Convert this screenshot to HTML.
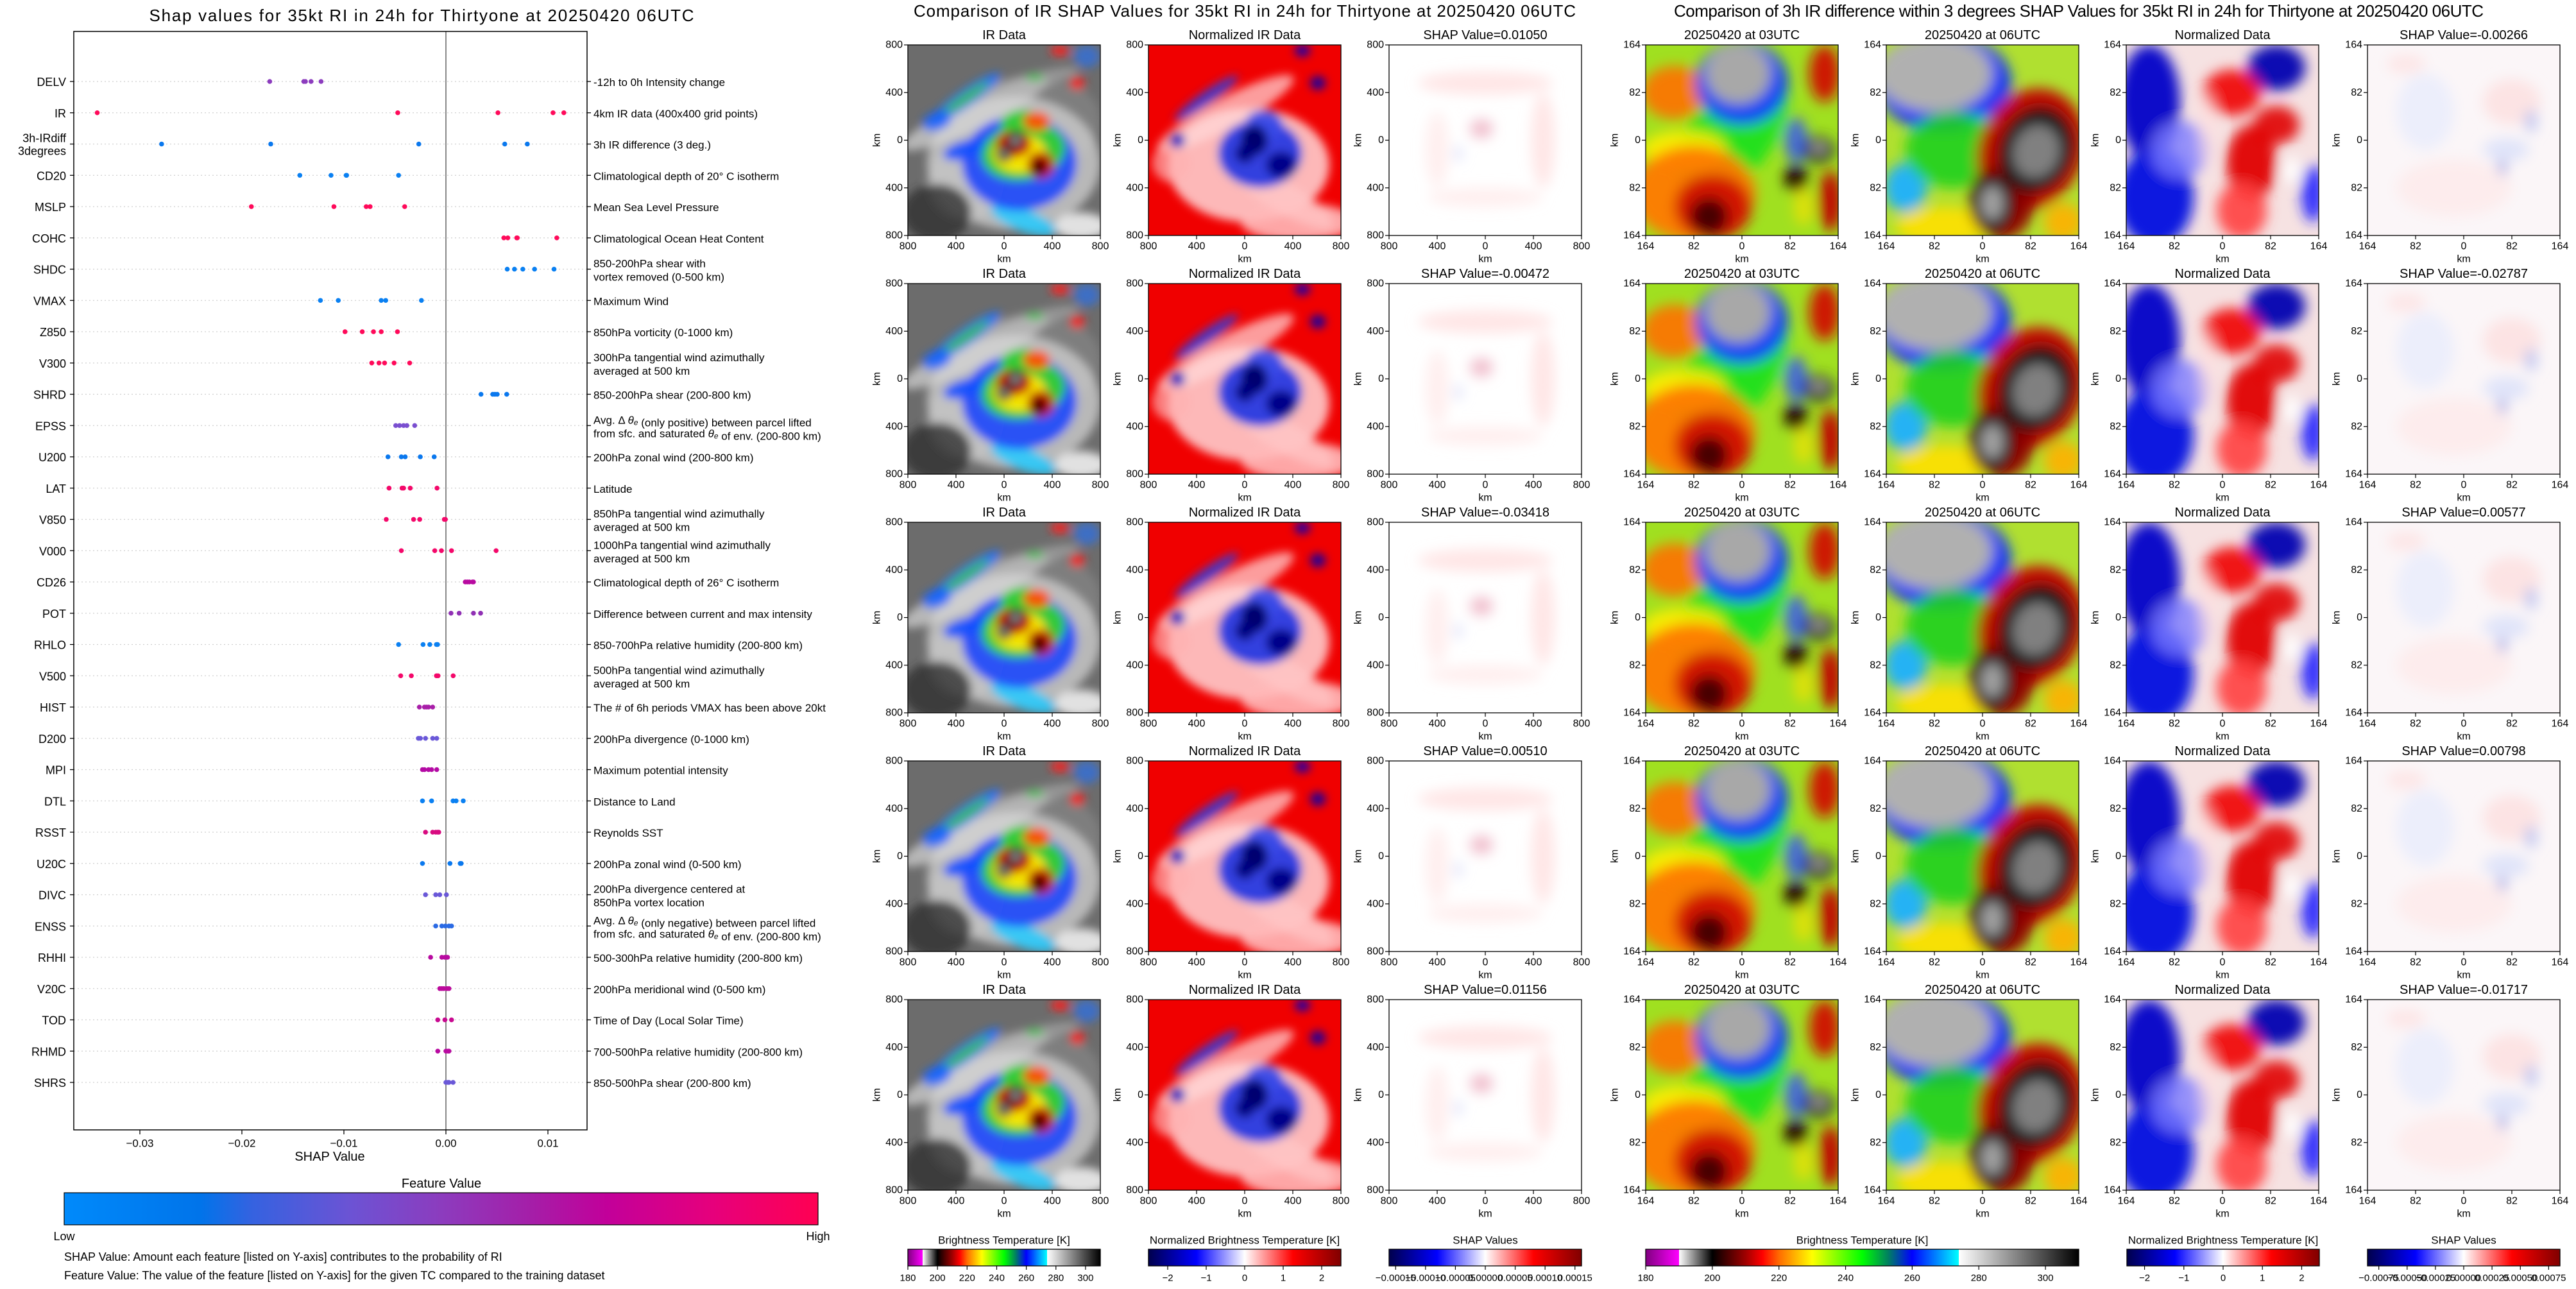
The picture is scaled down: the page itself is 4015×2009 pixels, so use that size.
<!DOCTYPE html>
<html><head><meta charset="utf-8"><title>SHAP RI Thirtyone</title>
<style>
html,body{margin:0;padding:0;background:#fff;}
svg{display:block;font-family:"Liberation Sans","DejaVu Sans",sans-serif;}
</style></head>
<body>
<svg id="fig" xmlns="http://www.w3.org/2000/svg" width="4015" height="2009" viewBox="0 0 4015 2009">
<defs>
<linearGradient id="featGrad" x1="0" x2="1" y1="0" y2="0">
<stop offset="0" stop-color="#008afb"/><stop offset="0.18" stop-color="#0074ea"/><stop offset="0.25" stop-color="#3562e0"/><stop offset="0.38" stop-color="#6c53d4"/><stop offset="0.5" stop-color="#8c3cbe"/><stop offset="0.62" stop-color="#a51ea8"/><stop offset="0.72" stop-color="#c2009a"/><stop offset="0.86" stop-color="#e6007c"/><stop offset="1" stop-color="#ff0052"/>
</linearGradient>
<linearGradient id="btGrad" x1="0" x2="1" y1="0" y2="0">
<stop offset="0" stop-color="#800080"/><stop offset="0.0769" stop-color="#ff00ff"/><stop offset="0.0769" stop-color="#ffffff"/><stop offset="0.1538" stop-color="#000000"/><stop offset="0.2308" stop-color="#a00000"/><stop offset="0.2692" stop-color="#ff0000"/><stop offset="0.31" stop-color="#ff7000"/><stop offset="0.3846" stop-color="#ffff00"/><stop offset="0.5" stop-color="#00ff00"/><stop offset="0.56" stop-color="#008060"/><stop offset="0.615" stop-color="#0000ff"/><stop offset="0.7231" stop-color="#00ffff"/><stop offset="0.7231" stop-color="#ffffff"/><stop offset="1" stop-color="#000000"/>
</linearGradient>
<linearGradient id="seisGrad" x1="0" x2="1" y1="0" y2="0">
<stop offset="0" stop-color="#00004c"/><stop offset="0.25" stop-color="#0000ff"/><stop offset="0.5" stop-color="#ffffff"/><stop offset="0.75" stop-color="#ff0000"/><stop offset="1" stop-color="#800000"/>
</linearGradient>
<filter id="blurA" x="-20%" y="-20%" width="140%" height="140%"><feGaussianBlur stdDeviation="10"/></filter>
<filter id="blurB" x="-20%" y="-20%" width="140%" height="140%"><feGaussianBlur stdDeviation="7"/></filter>
</defs>
<g id="left"></g>
<g id="mid"></g>
<g id="right"></g>
</svg>
<script>
// ---------- data ----------
const features = ['DELV','IR','3h-IRdiff','CD20','MSLP','COHC','SHDC','VMAX','Z850','V300','SHRD','EPSS','U200','LAT','V850','V000','CD26','POT','RHLO','V500','HIST','D200','MPI','DTL','RSST','U20C','DIVC','ENSS','RHHI','V20C','TOD','RHMD','SHRS'];
const descriptions = [
 ['-12h to 0h Intensity change'],['4km IR data (400x400 grid points)'],['3h IR difference (3 deg.)'],
 ['Climatological depth of 20° C isotherm'],['Mean Sea Level Pressure'],['Climatological Ocean Heat Content'],
 ['850-200hPa shear with','vortex removed (0-500 km)'],['Maximum Wind'],['850hPa vorticity (0-1000 km)'],
 ['300hPa tangential wind azimuthally','averaged at 500 km'],['850-200hPa shear (200-800 km)'],
 ['Avg. Δ {te} (only positive) between parcel lifted','from sfc. and saturated {te} of env. (200-800 km)'],
 ['200hPa zonal wind (200-800 km)'],['Latitude'],['850hPa tangential wind azimuthally','averaged at 500 km'],
 ['1000hPa tangential wind azimuthally','averaged at 500 km'],['Climatological depth of 26° C isotherm'],
 ['Difference between current and max intensity'],['850-700hPa relative humidity (200-800 km)'],
 ['500hPa tangential wind azimuthally','averaged at 500 km'],['The # of 6h periods VMAX has been above 20kt'],
 ['200hPa divergence (0-1000 km)'],['Maximum potential intensity'],['Distance to Land'],['Reynolds SST'],
 ['200hPa zonal wind (0-500 km)'],['200hPa divergence centered at','850hPa vortex location'],
 ['Avg. Δ {te} (only negative) between parcel lifted','from sfc. and saturated {te} of env. (200-800 km)'],
 ['500-300hPa relative humidity (200-800 km)'],['200hPa meridional wind (0-500 km)'],['Time of Day (Local Solar Time)'],
 ['700-500hPa relative humidity (200-800 km)'],['850-500hPa shear (200-800 km)']];
const irShap = [0.01050,-0.00472,-0.03418,0.00510,0.01156];
const irDiffShap = [-0.00266,-0.02787,0.00577,0.00798,-0.01717];
const shapValues = [
 [-0.01727,-0.01393,-0.01377,-0.01322,-0.01224],
 irShap,
 irDiffShap,
 [-0.01432,-0.01126,-0.00978,-0.00973,-0.00464],
 [-0.01907,-0.01098,-0.00781,-0.00743,-0.00404],
 [0.00568,0.00607,0.00694,0.00700,0.01087],
 [0.00601,0.00672,0.00754,0.00869,0.01060],
 [-0.01230,-0.01055,-0.00634,-0.00590,-0.00240],
 [-0.00989,-0.00820,-0.00710,-0.00634,-0.00475],
 [-0.00727,-0.00656,-0.00601,-0.00508,-0.00355],
 [0.00344,0.00459,0.00480,0.00503,0.00596],
 [-0.00492,-0.00454,-0.00415,-0.00383,-0.00306],
 [-0.00568,-0.00437,-0.00399,-0.00251,-0.00115],
 [-0.00557,-0.00430,-0.00415,-0.00350,-0.00087],
 [-0.00585,-0.00317,-0.00257,-0.00016,-0.00005],
 [-0.00437,-0.00109,-0.00044,0.00055,0.00492],
 [0.00190,0.00210,0.00230,0.00260,0.00270],
 [0.00050,0.00130,0.00270,0.00340],
 [-0.00464,-0.00224,-0.00158,-0.00093,-0.00082],
 [-0.00443,-0.00339,-0.00093,-0.00077,0.00071],
 [-0.00260,-0.00210,-0.00190,-0.00170,-0.00130],
 [-0.00270,-0.00250,-0.00200,-0.00130,-0.00090],
 [-0.00230,-0.00210,-0.00170,-0.00140,-0.00090],
 [-0.00230,-0.00140,0.00070,0.00100,0.00170],
 [-0.00200,-0.00130,-0.00100,-0.00080,-0.00070],
 [-0.00230,0.00040,0.00140,0.00150],
 [-0.00200,-0.00100,-0.00060,0.00005],
 [-0.00100,-0.00040,-0.00005,0.00030,0.00055],
 [-0.00150,-0.00040,-0.00010,0.00005,0.00016],
 [-0.00060,-0.00040,-0.00020,0.00010,0.00030],
 [-0.00080,-0.00010,0.00055],
 [-0.00080,0.00000,0.00020,0.00030],
 [0.00000,0.00020,0.00030,0.00070]];
const dotColors = ['#8c3cbe','#ff0a5a','#0a78ee','#0a80f2','#ff0a5a','#ff0a5a','#0a80f2','#0a80f2','#ff0a5a','#ff0a5a','#0a78ee','#7a4fd0','#0a78ee','#f4086a','#f4086a','#f4086a','#b80aa0','#9030b4','#0a80f2','#f4086a','#a81ea8','#6a58d8','#b40aa4','#0a80f2','#d80a80','#0a78ee','#6a58d8','#2a6ae4','#b80aa0','#bc0a9c','#c80a90','#b80aa0','#6a58d8'];
const xTicks = [-0.03,-0.02,-0.01,0.00,0.01];
const xTickLabels = ['\u22120.03','\u22120.02','\u22120.01','0.00','0.01'];

const NS = 'http://www.w3.org/2000/svg';
function el(tag, attrs, parent){ const e=document.createElementNS(NS,tag); for(const k in attrs) e.setAttribute(k,attrs[k]); parent.appendChild(e); return e; }
function txt(parent,x,y,s,size,anchor){ const t=el('text',{x:x,y:y,'font-size':size,'text-anchor':anchor||'middle','dominant-baseline':'central',fill:'#000'},parent); t.textContent=s; return t; }

// ---------- left summary plot ----------
const L = document.getElementById('left');
const AX = {l:115,r:915,t:49,b:1761};
function xs(v){ return 695 + v*15900; }
function yRow(i){ return 127 + i*48.75; }

const title = txt(L,657,24,'Shap values for 35kt RI in 24h for Thirtyone at 20250420 06UTC',26);
title.setAttribute('textLength','849');



features.forEach((f,i)=>{
  const y=yRow(i);
  const g=el('line',{x1:AX.l,x2:AX.r,y1:y,y2:y,stroke:'#cfcfcf','stroke-width':1.2,'stroke-dasharray':'2 4'},L);
  
  
  const tl=el('line',{x1:AX.l-6,x2:AX.l,y1:y,y2:y,stroke:'#000','stroke-width':1.3},L);
  
  
  const tr=el('line',{x1:AX.r,x2:AX.r+6,y1:y,y2:y,stroke:'#000','stroke-width':1.3},L);
  
  
  if(f==='3h-IRdiff'){
    const a=txt(L,103,y-9,'3h-IRdiff',18,'end');
    
    
    const b=txt(L,103,y+11,'3degrees',18,'end');
    
    
  } else {
    const a=txt(L,103,y+1,f,18,'end');
    
    
  }
  const lines=descriptions[i];
  lines.forEach((ln,k)=>{
    const yy = lines.length===1 ? y+1 : (k===0 ? y-9 : y+12);
    const t=el('text',{x:925,y:yy,'font-size':17,'dominant-baseline':'central',fill:'#000'},L);
    
    
    const parts=ln.split('{te}');
    parts.forEach((p,pi)=>{
      const s=el('tspan',{},t); s.textContent=p;
      if(pi<parts.length-1){
        const th=el('tspan',{'font-style':'italic'},t); th.textContent='θ';
        const sub=el('tspan',{'font-size':12,dy:4,'font-style':'italic'},t); sub.textContent='e';
        const back=el('tspan',{dy:-4},t); back.textContent='';
      }
    });
  });
});

const zl=el('line',{x1:xs(0),x2:xs(0),y1:AX.t,y2:AX.b,stroke:'#8a8a8a','stroke-width':2},L);



shapValues.forEach((vals,i)=>{
  vals.forEach(v=>{
    const c=el('circle',{cx:xs(v),cy:yRow(i),r:3.8,fill:dotColors[i]},L);
    
    
  });
});

const frame=el('rect',{x:AX.l,y:AX.t,width:AX.r-AX.l,height:AX.b-AX.t,fill:'none',stroke:'#000','stroke-width':1.5},L);



xTicks.forEach((t,k)=>{
  const m=el('line',{x1:xs(t),x2:xs(t),y1:AX.b,y2:AX.b+7,stroke:'#000','stroke-width':1.3},L);
  
  
  const lb=txt(L,xs(t),AX.b+21,xTickLabels[k],17);
  
  
});
const xt=txt(L,514,1803,'SHAP Value',20);


const fvt=txt(L,688,1845,'Feature Value',20);


const fcb=el('rect',{x:100,y:1859,width:1175,height:50,fill:'url(#featGrad)',stroke:'#000','stroke-width':1.2},L);


const lo=txt(L,100,1927,'Low',18);


const hi=txt(L,1275,1927,'High',18);


const n1=txt(L,100,1959,'SHAP Value: Amount each feature [listed on Y-axis] contributes to the probability of RI',18,'start');


const n2=txt(L,100,1988,'Feature Value: The value of the feature [listed on Y-axis] for the given TC compared to the training dataset',18,'start');



// ---------- imagery panels ----------
const rowTops=[70,442,814,1186,1558];
const PW=300, PH=297;
const IMG = {
 ir:{bg:'#6c6c6c',blur:'blurB',blobs:[
  [0.35,0.36,0.42,0.08,'#d0d0d0',0.75,-25],[0.55,0.22,0.35,0.05,'#b0b0b0',0.6,-15],[0.8,0.4,0.2,0.2,'#8a8a8a',0.6,0],
  [0.55,0.62,0.45,0.35,'#d8d8d8',0.7,0],[0.3,0.72,0.2,0.2,'#c8c8c8',0.6,-30],
  [0.15,0.88,0.18,0.15,'#303030',0.8,0],[0.9,0.95,0.14,0.07,'#eeeeee',0.9,0],
  [0.3,0.28,0.22,0.045,'#1a70ff',0.9,-35],[0.3,0.28,0.15,0.025,'#40c040',0.9,-35],[0.15,0.4,0.08,0.05,'#1060ff',0.8,-20],
  [0.6,0.92,0.18,0.06,'#30c8f8',0.95,20],[0.58,0.62,0.3,0.25,'#1040ff',0.85,0],[0.3,0.55,0.12,0.05,'#1050ff',0.9,-15],
  [0.6,0.56,0.22,0.15,'#30d030',0.95,-10],[0.6,0.42,0.12,0.08,'#30d030',0.95,0],[0.58,0.57,0.14,0.1,'#ffe800',0.95,0],
  [0.67,0.4,0.07,0.05,'#ff5000',0.95,0],[0.55,0.52,0.09,0.07,'#d01000',0.95,0],[0.69,0.63,0.07,0.07,'#c81000',0.95,0],
  [0.56,0.5,0.045,0.05,'#101010',1,0],[0.5,0.57,0.04,0.045,'#101010',1,0],[0.68,0.64,0.035,0.045,'#300000',1,0],
  [0.56,0.5,0.025,0.025,'#909090',1,0],[0.5,0.57,0.02,0.02,'#909090',1,0],
  [0.79,0.03,0.05,0.03,'#ff2020',0.9,0],[0.88,0.2,0.04,0.035,'#ff2020',0.9,0],[0.93,0.06,0.07,0.06,'#1a70ff',0.6,0],[0.66,0.17,0.05,0.02,'#30c040',0.8,0]]},
 nir:{bg:'#f00000',blur:'blurB',blobs:[
  [0.4,0.36,0.4,0.08,'#ffc4c4',0.8,-28],[0.52,0.63,0.42,0.3,'#ffd8d8',0.85,0],[0.78,0.93,0.3,0.1,'#ffb8b8',0.9,0],
  [0.12,0.62,0.1,0.1,'#ffb0b0',0.7,0],[0.3,0.28,0.2,0.035,'#3040e0',0.85,-35],[0.7,0.8,0.3,0.08,'#ffc8c8',0.7,30],
  [0.58,0.57,0.22,0.18,'#2838e0',0.95,0],[0.6,0.42,0.1,0.08,'#3a4ae8',0.9,0],[0.55,0.5,0.07,0.08,'#000070',1,0],
  [0.5,0.57,0.05,0.05,'#000080',1,0],[0.69,0.63,0.08,0.07,'#00008a',1,0],[0.15,0.5,0.04,0.04,'#0000c0',0.9,0],
  [0.8,0.03,0.04,0.03,'#0000c0',0.9,0],[0.88,0.2,0.04,0.035,'#0000b0',0.9,0]]},
 sir:{bg:'#ffffff',blur:'blurA',blobs:[
  [0.5,0.2,0.35,0.06,'#ffdcdc',0.7,0],[0.8,0.5,0.06,0.25,'#ffdcdc',0.7,0],[0.25,0.55,0.06,0.2,'#ffe4e4',0.6,0],
  [0.5,0.8,0.3,0.05,'#ffe4e4',0.6,0],[0.48,0.44,0.06,0.05,'#f0b8c8',0.9,0],[0.36,0.57,0.02,0.04,'#d8dcf8',0.9,0]]},
 t03:{bg:'#a0e020',blur:'blurA',blobs:[
  [0.45,0.45,0.22,0.4,'#20e020',0.95,35],[0.2,0.55,0.22,0.1,'#ffee00',0.9,0],[0.15,0.25,0.17,0.14,'#ff7000',0.9,0],
  [0.25,0.78,0.32,0.25,'#ff7a00',0.95,0],[0.35,0.85,0.2,0.17,'#d01000',0.95,0],[0.33,0.9,0.1,0.1,'#400000',0.95,0],
  [0.5,0.2,0.24,0.22,'#1040ff',0.95,0],[0.48,0.15,0.17,0.16,'#a8a8a8',1,0],[0.93,0.15,0.08,0.15,'#d01000',0.95,0],
  [0.78,0.5,0.06,0.12,'#3050ff',0.8,0],[0.9,0.55,0.08,0.07,'#151515',1,0],[0.9,0.54,0.04,0.03,'#a8a8a8',1,0],
  [0.78,0.7,0.06,0.07,'#200000',1,0],[0.96,0.82,0.06,0.16,'#c00000',0.95,0],[0.82,0.85,0.05,0.1,'#f8e000',0.7,0]]},
 t06:{bg:'#b0e030',blur:'blurA',blobs:[
  [0.3,0.2,0.35,0.26,'#1030ff',0.95,0],[0.25,0.15,0.3,0.2,'#b0b0b0',1,0],[0.5,0.42,0.08,0.05,'#00d0ff',0.9,0],
  [0.1,0.75,0.11,0.13,'#20b0ff',0.95,0],[0.35,0.55,0.25,0.2,'#20d020',0.9,0],[0.3,0.95,0.25,0.1,'#ffe000',0.9,0],
  [0.92,0.93,0.1,0.1,'#ffb000',0.9,0],[0.75,0.55,0.27,0.33,'#c00000',0.95,25],[0.6,0.82,0.17,0.2,'#900000',0.95,0],
  [0.78,0.55,0.19,0.23,'#151515',1,20],[0.55,0.83,0.11,0.15,'#101010',1,0],[0.78,0.56,0.12,0.14,'#808080',1,20],
  [0.55,0.83,0.06,0.09,'#a0a0a0',1,0]]},
 nd:{bg:'#f6e2e2',blur:'blurA',blobs:[
  [0.12,0.3,0.16,0.3,'#0000c8',0.95,0],[0.15,0.8,0.2,0.26,'#0010e0',0.95,0],[0.28,0.55,0.15,0.15,'#7a7aff',0.8,0],
  [0.78,0.12,0.15,0.12,'#0000b0',0.95,0],[0.55,0.25,0.15,0.12,'#f00000',0.9,0],[0.78,0.42,0.12,0.1,'#e00000',0.9,0],
  [0.65,0.62,0.13,0.2,'#e00000',0.95,0],[0.6,0.87,0.13,0.15,'#ff4040',0.9,0],[0.97,0.78,0.06,0.15,'#2020ff',0.9,0],
  [0.86,0.66,0.05,0.07,'#ffffff',0.9,0],[0.42,0.45,0.05,0.2,'#ffe0e0',0.6,0]]},
 s3:{bg:'#fbf6f8',blur:'blurA',blobs:[
  [0.3,0.35,0.15,0.2,'#e8ecfc',0.8,0],[0.75,0.3,0.15,0.12,'#fcdede',0.8,0],[0.72,0.55,0.12,0.06,'#dde2fa',0.9,0],
  [0.85,0.4,0.03,0.06,'#b8c0f0',0.9,0],[0.7,0.65,0.02,0.05,'#8890e0',0.9,0],[0.45,0.75,0.3,0.15,'#fde8e8',0.7,0],
  [0.2,0.1,0.1,0.05,'#fde0e0',0.7,0]]}
};
function panel(parent,x,y,type,name){
  const spec=IMG[type];
  const sv=el('svg',{x:x,y:y,width:PW,height:PH,overflow:'hidden'},parent);
  
  
  const bg=el('rect',{x:0,y:0,width:PW,height:PH,fill:spec.bg},sv);
  
  
  const g=el('g',{filter:'url(#'+spec.blur+')'},sv);
  
  
  spec.blobs.forEach(b=>{
    const cx=b[0]*PW, cy=b[1]*PH;
    const e=el('ellipse',{cx:cx,cy:cy,rx:b[2]*PW,ry:b[3]*PH,fill:b[4],'fill-opacity':b[5],transform:'rotate('+b[6]+' '+cx+' '+cy+')'},g);
    
    
  });
  const fr=el('rect',{x:x,y:y,width:PW,height:PH,fill:'none',stroke:'#000','stroke-width':1.3},parent);
  
  
}
function axesLabels(parent,x,y,labs,title){
  for(let k=0;k<5;k++){
    const yy=y+k*PH/4, xx=x+k*PW/4;
    const ty=el('line',{x1:x-6,x2:x,y1:yy,y2:yy,stroke:'#000','stroke-width':1.2},parent);
    
    
    const ly=txt(parent,x-8,yy,labs[k],16,'end');
    
    
    const tx=el('line',{x1:xx,x2:xx,y1:y+PH,y2:y+PH+6,stroke:'#000','stroke-width':1.2},parent);
    
    
    const lx=txt(parent,xx,y+PH+17,labs[k],16);
    
    
  }
  const xk=txt(parent,x+PW/2,y+PH+37,'km',16);
  
  
  const yk=txt(parent,0,0,'km',16);
  yk.setAttribute('transform','translate('+(x-48)+','+(y+PH/2)+') rotate(-90)');
  
  
  const tt=txt(parent,x+PW/2,y-15,title,20);
  
  
}
function fmt(v){ return (v<0?'-':'')+Math.abs(v).toFixed(5); }

const M=document.getElementById('mid');
const mt=txt(M,1940,17,'Comparison of IR SHAP Values for 35kt RI in 24h for Thirtyone at 20250420 06UTC',26);
mt.setAttribute('textLength','1032');


const midX=[1415,1790,2165];
const kmLabs=['800','400','0','400','800'];
rowTops.forEach((T,r)=>{
  panel(M,midX[0],T,'ir','ir-data-panel');
  axesLabels(M,midX[0],T,kmLabs,'IR Data');
  panel(M,midX[1],T,'nir','normalized-ir-panel');
  axesLabels(M,midX[1],T,kmLabs,'Normalized IR Data');
  panel(M,midX[2],T,'sir','ir-shap-panel');
  axesLabels(M,midX[2],T,kmLabs,'SHAP Value='+fmt(irShap[r]));
});

const R=document.getElementById('right');
const rt=txt(R,3240,17,'Comparison of 3h IR difference within 3 degrees SHAP Values for 35kt RI in 24h for Thirtyone at 20250420 06UTC',26);
rt.setAttribute('textLength','1262');


const rightX=[2565,2940,3314,3690];
const dLabs=['164','82','0','82','164'];
rowTops.forEach((T,r)=>{
  panel(R,rightX[0],T,'t03','ir-03utc-panel');
  axesLabels(R,rightX[0],T,dLabs,'20250420 at 03UTC');
  panel(R,rightX[1],T,'t06','ir-06utc-panel');
  axesLabels(R,rightX[1],T,dLabs,'20250420 at 06UTC');
  panel(R,rightX[2],T,'nd','normalized-diff-panel');
  axesLabels(R,rightX[2],T,dLabs,'Normalized Data');
  panel(R,rightX[3],T,'s3','irdiff-shap-panel');
  axesLabels(R,rightX[3],T,dLabs,'SHAP Value='+fmt(irDiffShap[r]));
});

// ---------- colorbars ----------
const btTicks=[180,200,220,240,260,280,300];
const normTicks=[-2,-1,0,1,2];
const shapIrTicks=[-0.00015,-0.0001,-0.00005,0,0.00005,0.0001,0.00015];
const shapDiffTicks=[-0.00075,-0.0005,-0.00025,0,0.00025,0.0005,0.00075];
function lab(v,d){ const s=Math.abs(v).toFixed(d); return (v<0?'\u2212':'')+s; }
const cbars=[
 {p:M,x:1415,w:300,title:'Brightness Temperature [K]',grad:'btGrad',min:180,max:310,ticks:btTicks,d:0,name:'bt-colorbar'},
 {p:M,x:1790,w:300,title:'Normalized Brightness Temperature [K]',grad:'seisGrad',min:-2.5,max:2.5,ticks:normTicks,d:0,name:'normalized-colorbar'},
 {p:M,x:2165,w:300,title:'SHAP Values',grad:'seisGrad',min:-0.000161,max:0.000161,ticks:shapIrTicks,d:5,name:'ir-shap-colorbar'},
 {p:R,x:2565,w:675,title:'Brightness Temperature [K]',grad:'btGrad',min:180,max:310,ticks:btTicks,d:0,name:'bt-colorbar-diff'},
 {p:R,x:3315,w:300,title:'Normalized Brightness Temperature [K]',grad:'seisGrad',min:-2.45,max:2.45,ticks:normTicks,d:0,name:'normalized-colorbar-diff'},
 {p:R,x:3690,w:300,title:'SHAP Values',grad:'seisGrad',min:-0.00085,max:0.00085,ticks:shapDiffTicks,d:5,name:'irdiff-shap-colorbar'}];
cbars.forEach(c=>{
  const bar=el('rect',{x:c.x,y:1947,width:c.w,height:26,fill:'url(#'+c.grad+')',stroke:'#000','stroke-width':1.3},c.p);
  
  
  const t=txt(c.p,c.x+c.w/2,1933,c.title,17);
  
  
  c.ticks.forEach(v=>{
    const xx=c.x+(v-c.min)/(c.max-c.min)*c.w;
    const m=el('line',{x1:xx,x2:xx,y1:1973,y2:1979,stroke:'#000','stroke-width':1.2},c.p);
    
    
    const l=txt(c.p,xx,1992,lab(v,c.d),15);
    
    
  });
});
</script>
</body></html>
